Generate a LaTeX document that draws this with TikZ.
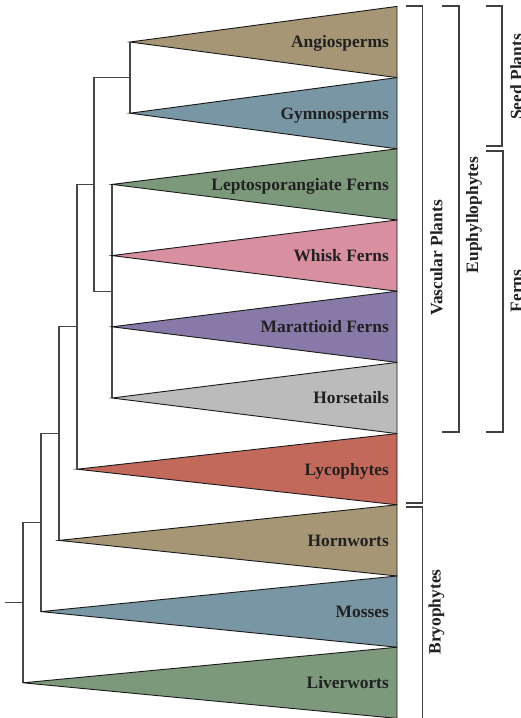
\documentclass[tikz,border=0pt]{standalone}
\usepackage{fontspec}
\setmainfont{Liberation Serif}

\definecolor{tancol}{HTML}{A69676}
\definecolor{bluecol}{HTML}{7896A3}
\definecolor{greencol}{HTML}{7C9A7B}
\definecolor{pinkcol}{HTML}{D890A1}
\definecolor{purplecol}{HTML}{887AA8}
\definecolor{greycol}{HTML}{BBBBBB}
\definecolor{redcol}{HTML}{C3695B}

\begin{document}
\begin{tikzpicture}[x=1pt, y=-1pt, branch/.style={draw=black!72, line width=1.1pt}, clade/.style={draw=black!90, line width=0.9pt}, taxon/.style={anchor=base east, inner sep=0pt, text=black!87, font=\fontsize{17.4}{20}\selectfont\bfseries}, bracket/.style={draw=black!75, line width=1.2pt}, group/.style={rotate=90, inner sep=0pt, text=black!87, font=\fontsize{17.4}{20}\selectfont\bfseries}]

    \useasboundingbox (0,0) rectangle (520,718);

    % tips
    \coordinate (angio) at (130,42);
    \coordinate (gymno) at (130,113.2);
    \coordinate (lepto) at (112,184.4);
    \coordinate (whisk) at (112,255.6);
    \coordinate (maratt) at (112,326.8);
    \coordinate (horse) at (112,398);
    \coordinate (lyco) at (77,469.2);
    \coordinate (horn) at (59,540.4);
    \coordinate (moss) at (41,611.6);
    \coordinate (liver) at (23,682.8);

    % inner nodes
    \coordinate (seed) at (130,77.6);
    \coordinate (ferns) at (112,291.2);
    \coordinate (euphyl) at (94,184.4);
    \coordinate (vasc) at (77,326.8);
    \coordinate (poly) at (59,433.6);
    \coordinate (stoma) at (41,522.6);
    \coordinate (root) at (23,602.7);
    \coordinate (stem) at (5,602.7);

    \draw[branch] (seed) |- (angio);
    \draw[branch] (seed) |- (gymno);
    \draw[branch] (ferns) |- (lepto);
    \draw[branch] (ferns) |- (whisk);
    \draw[branch] (ferns) |- (maratt);
    \draw[branch] (ferns) |- (horse);
    \draw[branch] (euphyl) |- (seed);
    \draw[branch] (euphyl) |- (ferns);
    \draw[branch] (vasc) |- (euphyl);
    \draw[branch] (vasc) |- (lyco);
    \draw[branch] (poly) |- (vasc);
    \draw[branch] (poly) |- (horn);
    \draw[branch] (stoma) |- (poly);
    \draw[branch] (stoma) |- (moss);
    \draw[branch] (root) |- (stoma);
    \draw[branch] (root) |- (liver);
    \draw[branch] (stem) -- (root);

    % collapsed clades
    \filldraw[clade, fill=tancol] (angio) -- (397,6.4) -- (397,77.6) -- cycle;
    \filldraw[clade, fill=bluecol] (gymno) -- (397,77.6) -- (397,148.8) -- cycle;
    \filldraw[clade, fill=greencol] (lepto) -- (397,148.8) -- (397,220) -- cycle;
    \filldraw[clade, fill=pinkcol] (whisk) -- (397,220) -- (397,291.2) -- cycle;
    \filldraw[clade, fill=purplecol] (maratt) -- (397,291.2) -- (397,362.4) -- cycle;
    \filldraw[clade, fill=greycol] (horse) -- (397,362.4) -- (397,433.6) -- cycle;
    \filldraw[clade, fill=redcol] (lyco) -- (397,433.6) -- (397,504.8) -- cycle;
    \filldraw[clade, fill=tancol] (horn) -- (397,504.8) -- (397,576) -- cycle;
    \filldraw[clade, fill=bluecol] (moss) -- (397,576) -- (397,647.2) -- cycle;
    \filldraw[clade, fill=greencol] (liver) -- (397,647.2) -- (397,718.4) -- cycle;

    \node[taxon] (angiolab) at (389,47.8) {Angiosperms};
    \node[taxon] (gymnolab) at (389,119) {Gymnosperms};
    \node[taxon] (leptolab) at (389,190.2) {Leptosporangiate Ferns};
    \node[taxon] (whisklab) at (389,261.4) {Whisk Ferns};
    \node[taxon] (marattlab) at (389,332.6) {Marattioid Ferns};
    \node[taxon] (horselab) at (389,403.8) {Horsetails};
    \node[taxon] (lycolab) at (389,475) {Lycophytes};
    \node[taxon] (hornlab) at (389,546.2) {Hornworts};
    \node[taxon] (mosslab) at (389,617.4) {Mosses};
    \node[taxon] (liverlab) at (389,688.6) {Liverworts};

    % groups
    \draw[bracket] (406,6) -| (422.5,503) -- (406,503);
    \node[group] (vasclab) at (436.5,258) {Vascular Plants};
    \draw[bracket] (406,507) -| (422.5,722);
    \node[group] (bryolab) at (436.5,612) {Bryophytes};
    \draw[bracket] (442,6) -| (459,432) -- (442,432);
    \node[group] (euphlab) at (474,215) {Euphyllophytes};
    \draw[bracket] (486,6) -| (502,146) -- (486,146);
    \node[group] (seedlab) at (516.5,77) {Seed Plants};
    \draw[bracket] (486,151) -| (503,432) -- (486,432);
    \node[group] (fernlab) at (516.5,291) {Ferns};

\end{tikzpicture}
\end{document}
